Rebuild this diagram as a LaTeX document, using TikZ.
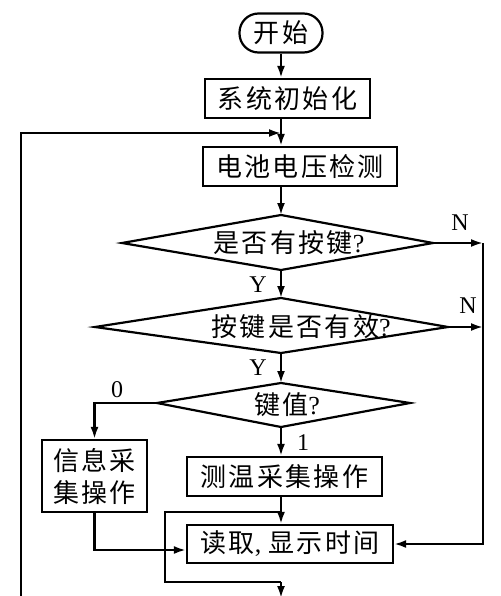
\documentclass[tikz,border=0pt]{standalone}
\usepackage{fontspec}
\setmainfont{Liberation Serif}
\newfontfamily\cjk[LetterSpace=9]{Noto Sans CJK SC}
\usetikzlibrary{arrows.meta}
\begin{document}
\begin{tikzpicture}[x=1pt,y=-1pt, line width=2.2pt,
  arr/.style={-{Latex[length=12pt,width=8pt]}},
  box/.style={draw, rectangle, inner sep=0pt, font=\cjk\fontsize{26}{32}\selectfont},
  dtext/.style={font=\cjk\fontsize{26}{32}\selectfont, inner sep=0pt},
  lbl/.style={font=\fontsize{24}{26}\selectfont, inner sep=0pt}]
\useasboundingbox (0,0) rectangle (500,596);
\clip (0,0) rectangle (500,596);
\coordinate (sp) at (281,0);
% boxes
\node[box, rounded corners=19pt, minimum width=83pt, minimum height=39pt] (start) at (281,33) {开始};
\node[box, minimum width=165pt, minimum height=39pt] (init) at (287.5,98.5) {系统初始化};
\node[box, minimum width=194pt, minimum height=39pt] (batt) at (300,166.5) {电池电压检测};
\node[box, minimum width=105pt, minimum height=72pt, align=center] (info) at (94.5,476) {信息采\\集操作};
\node[box, minimum width=195pt, minimum height=39pt] (temp) at (284.5,476.5) {测温采集操作};
\node[box, minimum width=206pt, minimum height=38pt] (read) at (290,544) {读取{\rmfamily ,}\hspace{7pt}显示时间};
% diamonds
\coordinate (d1t) at (281,215); \coordinate (d1r) at (433,243);
\coordinate (d1b) at (281,270); \coordinate (d1l) at (122,243);
\draw (d1t) -- (d1r) -- (d1b) -- (d1l) -- cycle;
\node[dtext] (d1) at (289,243) {是否有按键{\rmfamily ?}};
\coordinate (d2t) at (281,298); \coordinate (d2r) at (448,327);
\coordinate (d2b) at (281,353); \coordinate (d2l) at (95,327);
\draw (d2t) -- (d2r) -- (d2b) -- (d2l) -- cycle;
\node[dtext] (d2) at (301,327) {按键是否有效{\rmfamily ?}};
\coordinate (d3t) at (281,383); \coordinate (d3r) at (410,403);
\coordinate (d3b) at (281,427); \coordinate (d3l) at (157,403);
\draw (d3t) -- (d3r) -- (d3b) -- (d3l) -- cycle;
\node[dtext] (d3) at (287,405) {键值{\rmfamily ?}};
% labels
\node[lbl] (n1) at (460,223) {N};
\node[lbl] (n2) at (468,306) {N};
\node[lbl] (y1) at (258,285) {Y};
\node[lbl] (y2) at (258,368) {Y};
\node[lbl] (l0) at (117,390) {0};
\node[lbl] (l1) at (303,443) {1};
% connectors
\draw[arr] (start.south) -- (start.south |- init.north);
\draw[arr] (sp |- init.south) -- (sp |- batt.north);
\coordinate (loopb) at (21,600); \coordinate (loopt) at (21,133);
\draw[arr] (loopb) -- (loopt) -- (loopt -| sp);
\draw[arr] (sp |- batt.south) -- (d1t);
\draw[arr] (d1b) -- (d2t);
\draw[arr] (d2b) -- (d3t);
\coordinate (r1) at (483,243); \coordinate (r2) at (483,327);
\draw[arr] (d1r) -- (r1);
\draw[arr] (d2r) -- (r2);
\draw[arr] (r1) |- (read.east);
\draw[arr] (d3l) -| (info.north);
\draw[arr] (d3b) -- (sp |- temp.north);
\draw[arr] (sp |- temp.south) -- (sp |- read.north);
\coordinate (j1) at (94.5,550);
\draw[arr] (info.south) -- (j1) -- (j1 -| read.west);
\coordinate (m1) at (165,512); \coordinate (m2) at (165,582);
\draw (m1 -| sp) -- (m1) -- (m2) -- (m2 -| sp);
\coordinate (bot) at (281,598);
\draw[arr] (m2 -| sp) -- (bot);
\end{tikzpicture}
\end{document}
